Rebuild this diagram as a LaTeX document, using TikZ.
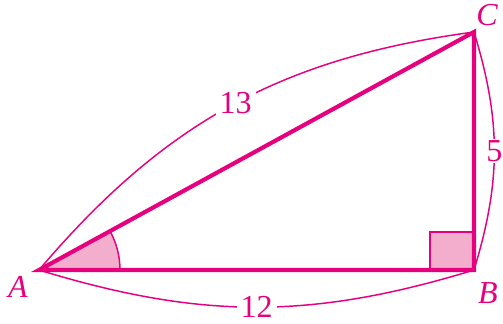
\documentclass[tikz,border=0pt]{standalone}
\usepackage{fontspec}
\setmainfont{Liberation Serif}
\definecolor{mag}{HTML}{E6007E}
\definecolor{pinkfill}{HTML}{F3AECE}
\begin{document}
\begin{tikzpicture}[x=0.75pt,y=-0.75pt,
  side/.style={draw=mag,line width=3.1pt,line join=miter},
  meas/.style={draw=mag,line width=1.1pt},
  lbl/.style={text=mag,font=\fontsize{24}{28}\selectfont\itshape,inner sep=0pt},
  num/.style={text=mag,font=\fontsize{24}{28}\selectfont,fill=white,inner sep=3pt}]
\useasboundingbox (0,0) rectangle (503,324);
\coordinate (A) at (39,270);
\coordinate (B) at (474,270);
\coordinate (C) at (474,32);
% angle mark
\fill[pinkfill,draw=mag,line width=1.1pt] (A) -- ++(81,0) arc[start angle=0,end angle=-28.7,radius=81] -- cycle;
% right angle
\filldraw[fill=pinkfill,draw=mag,line width=1.1pt] (B) rectangle ++(-44,-38);
% measurement arcs
\draw[meas] (A) to[bend left=21] node[num,pos=0.51] (l13) {13} (C);
\draw[meas] (A) to[bend right=17] node[num,pos=0.5] (l12) {12} (B);
\draw[meas] (B) to[bend right=17] node[num,pos=0.5,inner sep=1pt] (l5) {5} (C);
% triangle
\draw[side] (A) -- (B) -- (C) -- cycle;
% labels
\node[lbl] (la) at (18,287) {A};
\node[lbl] (lb) at (488,293) {B};
\node[lbl] (lc) at (487,15) {C};
\end{tikzpicture}
\end{document}
